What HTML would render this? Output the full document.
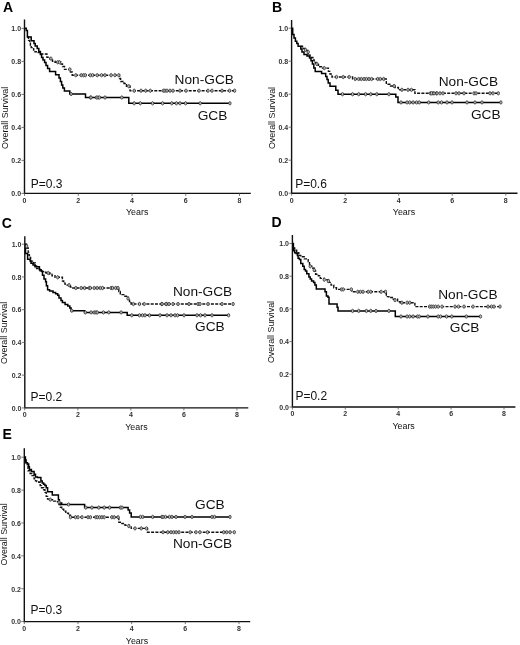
<!DOCTYPE html>
<html><head><meta charset="utf-8"><title>Kaplan-Meier survival curves</title>
<style>
html,body{margin:0;padding:0;background:#fff;}
body{width:520px;height:645px;overflow:hidden;}
svg{display:block;will-change:transform;}
text{font-family:"Liberation Sans", sans-serif;}
.lt{font-weight:bold;font-size:14px;fill:#000;}
.tk{font-size:7px;fill:#333;font-weight:bold;}
.ax{font-size:8.9px;fill:#111;}
.pv{font-size:12px;fill:#111;}
.gl{font-size:13.7px;fill:#111;}
.axis{stroke:#111;stroke-width:1.4;fill:none;}
.tick{stroke:#555;stroke-width:0.8;fill:none;}
.sol{stroke:#000;stroke-width:1.5;fill:none;stroke-linejoin:miter;}
.das{stroke:#111;stroke-width:1.4;fill:none;stroke-dasharray:3 1.3;}
.mk{stroke:#222;stroke-width:0.7;fill:#bbb;}
</style></head>
<body>
<svg width="520" height="645" viewBox="0 0 520 645">
<g>
<text class="lt" x="3.1" y="11.7">A</text>
<path class="axis" d="M24.5 19.6V193.4H250.8"/>
<path class="tick" d="M21.5 193.4H24.5"/>
<text class="tk" x="21.1" y="196.2" text-anchor="end">0.0</text>
<path class="tick" d="M21.5 160.4H24.5"/>
<text class="tk" x="21.1" y="163.2" text-anchor="end">0.2</text>
<path class="tick" d="M21.5 127.4H24.5"/>
<text class="tk" x="21.1" y="130.2" text-anchor="end">0.4</text>
<path class="tick" d="M21.5 94.4H24.5"/>
<text class="tk" x="21.1" y="97.2" text-anchor="end">0.6</text>
<path class="tick" d="M21.5 61.4H24.5"/>
<text class="tk" x="21.1" y="64.2" text-anchor="end">0.8</text>
<path class="tick" d="M21.5 28.4H24.5"/>
<text class="tk" x="21.1" y="31.2" text-anchor="end">1.0</text>
<path class="tick" d="M24.5 193.4V195.9"/>
<text class="tk" x="24.5" y="202.8" text-anchor="middle">0</text>
<path class="tick" d="M78.25 193.4V195.9"/>
<text class="tk" x="78.25" y="202.8" text-anchor="middle">2</text>
<path class="tick" d="M132 193.4V195.9"/>
<text class="tk" x="132" y="202.8" text-anchor="middle">4</text>
<path class="tick" d="M185.75 193.4V195.9"/>
<text class="tk" x="185.75" y="202.8" text-anchor="middle">6</text>
<path class="tick" d="M239.5 193.4V195.9"/>
<text class="tk" x="239.5" y="202.8" text-anchor="middle">8</text>
<text class="ax" x="137.2" y="214.8" text-anchor="middle">Years</text>
<text class="ax" transform="translate(7.5 117.8) rotate(-90)" text-anchor="middle">Overall Survival</text>
<text class="pv" x="30.8" y="187.9">P=0.3</text>
<text class="gl" x="174.6" y="83.8">Non-GCB</text>
<text class="gl" x="197.7" y="120.2">GCB</text>
<polyline class="das" points="27.4,37 28.5,37 28.5,40.4 29.6,40.4 29.6,42.5 30.4,42.5 30.4,45.4 31.2,45.4 31.2,47.6 33.6,47.6 33.6,50.1 35,50.1 35,51.8 37.2,51.8 37.2,52.6 40.6,52.6 40.6,54 46.9,54 46.9,57.3 50,57.3 50,59 52.5,59 52.5,61.3 55,61.3 55,62.2 61,62.2 61,64 62.5,64 62.5,66.5 64.5,66.5 64.5,69.4 70.5,69.4 70.5,72 72.2,72 72.2,75.2 119.5,75.2 119.5,78.5 120.6,78.5 120.6,81.5 124,81.5 124,83.5 126.5,83.5 126.5,86.2 130,86.2 130,90.7 234.6,90.7"/>
<polyline class="sol" points="24.5,28.2 26.2,28.2 26.2,30.6 27.4,30.6 27.4,37 31.2,37 31.2,40.8 34,40.8 34,43.5 35.2,43.5 35.2,46 37.2,46 37.2,48.5 38.8,48.5 38.8,51.5 40.4,51.5 40.4,54.5 41.6,54.5 41.6,57.5 43,57.5 43,60 44.6,60 44.6,62.5 46,62.5 46,65.5 47.6,65.5 47.6,68.5 49.6,68.5 49.6,71.4 55.6,71.4 55.6,74.8 59,74.8 59,78 60.4,78 60.4,81.5 61.6,81.5 61.6,85 62.8,85 62.8,88 64.4,88 64.4,91 69.8,91 69.8,94 85.5,94 85.5,97.5 128.8,97.5 128.8,103.3 229.9,103.3"/>
<ellipse class="mk" cx="50.9" cy="58.6" rx="1.2" ry="1.7"/>
<ellipse class="mk" cx="57.7" cy="62.2" rx="1.2" ry="1.7"/>
<ellipse class="mk" cx="59.4" cy="62.2" rx="1.2" ry="1.7"/>
<ellipse class="mk" cx="69.8" cy="69.4" rx="1.2" ry="1.7"/>
<ellipse class="mk" cx="75.8" cy="75.2" rx="1.2" ry="1.7"/>
<ellipse class="mk" cx="81.2" cy="75.2" rx="1.2" ry="1.7"/>
<ellipse class="mk" cx="83.5" cy="75.2" rx="1.2" ry="1.7"/>
<ellipse class="mk" cx="85.3" cy="75.2" rx="1.2" ry="1.7"/>
<ellipse class="mk" cx="90.3" cy="75.2" rx="1.2" ry="1.7"/>
<ellipse class="mk" cx="92.6" cy="75.2" rx="1.2" ry="1.7"/>
<ellipse class="mk" cx="97.2" cy="75.2" rx="1.2" ry="1.7"/>
<ellipse class="mk" cx="101.5" cy="75.2" rx="1.2" ry="1.7"/>
<ellipse class="mk" cx="104.9" cy="75.2" rx="1.2" ry="1.7"/>
<ellipse class="mk" cx="111.1" cy="75.2" rx="1.2" ry="1.7"/>
<ellipse class="mk" cx="114.9" cy="75.2" rx="1.2" ry="1.7"/>
<ellipse class="mk" cx="118.8" cy="75.2" rx="1.2" ry="1.7"/>
<ellipse class="mk" cx="128.8" cy="86.2" rx="1.2" ry="1.7"/>
<ellipse class="mk" cx="134.2" cy="90.7" rx="1.2" ry="1.7"/>
<ellipse class="mk" cx="141" cy="90.7" rx="1.2" ry="1.7"/>
<ellipse class="mk" cx="145.7" cy="90.7" rx="1.2" ry="1.7"/>
<ellipse class="mk" cx="150.3" cy="90.7" rx="1.2" ry="1.7"/>
<ellipse class="mk" cx="163.4" cy="90.7" rx="1.2" ry="1.7"/>
<ellipse class="mk" cx="165" cy="90.7" rx="1.2" ry="1.7"/>
<ellipse class="mk" cx="167" cy="90.7" rx="1.2" ry="1.7"/>
<ellipse class="mk" cx="170" cy="90.7" rx="1.2" ry="1.7"/>
<ellipse class="mk" cx="173" cy="90.7" rx="1.2" ry="1.7"/>
<ellipse class="mk" cx="180" cy="90.7" rx="1.2" ry="1.7"/>
<ellipse class="mk" cx="186" cy="90.7" rx="1.2" ry="1.7"/>
<ellipse class="mk" cx="199" cy="90.7" rx="1.2" ry="1.7"/>
<ellipse class="mk" cx="208" cy="90.7" rx="1.2" ry="1.7"/>
<ellipse class="mk" cx="212" cy="90.7" rx="1.2" ry="1.7"/>
<ellipse class="mk" cx="222" cy="90.7" rx="1.2" ry="1.7"/>
<ellipse class="mk" cx="229.5" cy="90.7" rx="1.2" ry="1.7"/>
<ellipse class="mk" cx="234.6" cy="90.7" rx="1.2" ry="1.7"/>
<ellipse class="mk" cx="71.1" cy="94" rx="1.2" ry="1.7"/>
<ellipse class="mk" cx="90.6" cy="97.5" rx="1.2" ry="1.7"/>
<ellipse class="mk" cx="91" cy="97.5" rx="1.2" ry="1.7"/>
<ellipse class="mk" cx="96.5" cy="97.5" rx="1.2" ry="1.7"/>
<ellipse class="mk" cx="98" cy="97.5" rx="1.2" ry="1.7"/>
<ellipse class="mk" cx="99.5" cy="97.5" rx="1.2" ry="1.7"/>
<ellipse class="mk" cx="105" cy="97.5" rx="1.2" ry="1.7"/>
<ellipse class="mk" cx="121.8" cy="97.5" rx="1.2" ry="1.7"/>
<ellipse class="mk" cx="134.2" cy="103.3" rx="1.2" ry="1.7"/>
<ellipse class="mk" cx="140.3" cy="103.3" rx="1.2" ry="1.7"/>
<ellipse class="mk" cx="152.6" cy="103.3" rx="1.2" ry="1.7"/>
<ellipse class="mk" cx="162.6" cy="103.3" rx="1.2" ry="1.7"/>
<ellipse class="mk" cx="171.8" cy="103.3" rx="1.2" ry="1.7"/>
<ellipse class="mk" cx="176.4" cy="103.3" rx="1.2" ry="1.7"/>
<ellipse class="mk" cx="180" cy="103.3" rx="1.2" ry="1.7"/>
<ellipse class="mk" cx="185.6" cy="103.3" rx="1.2" ry="1.7"/>
<ellipse class="mk" cx="200.2" cy="103.3" rx="1.2" ry="1.7"/>
<ellipse class="mk" cx="229.9" cy="103.3" rx="1.2" ry="1.7"/>
</g>
<g>
<text class="lt" x="271.9" y="11.6">B</text>
<path class="axis" d="M291.6 19.9V193.2H517.5"/>
<path class="tick" d="M288.6 193.2H291.6"/>
<text class="tk" x="288.2" y="196" text-anchor="end">0.0</text>
<path class="tick" d="M288.6 160.2H291.6"/>
<text class="tk" x="288.2" y="163" text-anchor="end">0.2</text>
<path class="tick" d="M288.6 127.2H291.6"/>
<text class="tk" x="288.2" y="130" text-anchor="end">0.4</text>
<path class="tick" d="M288.6 94.2H291.6"/>
<text class="tk" x="288.2" y="97" text-anchor="end">0.6</text>
<path class="tick" d="M288.6 61.2H291.6"/>
<text class="tk" x="288.2" y="64" text-anchor="end">0.8</text>
<path class="tick" d="M288.6 28.2H291.6"/>
<text class="tk" x="288.2" y="31" text-anchor="end">1.0</text>
<path class="tick" d="M291.6 193.2V195.7"/>
<text class="tk" x="291.6" y="202.6" text-anchor="middle">0</text>
<path class="tick" d="M345.15 193.2V195.7"/>
<text class="tk" x="345.15" y="202.6" text-anchor="middle">2</text>
<path class="tick" d="M398.7 193.2V195.7"/>
<text class="tk" x="398.7" y="202.6" text-anchor="middle">4</text>
<path class="tick" d="M452.25 193.2V195.7"/>
<text class="tk" x="452.25" y="202.6" text-anchor="middle">6</text>
<path class="tick" d="M505.8 193.2V195.7"/>
<text class="tk" x="505.8" y="202.6" text-anchor="middle">8</text>
<text class="ax" x="404" y="214.8" text-anchor="middle">Years</text>
<text class="ax" transform="translate(275.2 118) rotate(-90)" text-anchor="middle">Overall Survival</text>
<text class="pv" x="295.2" y="188">P=0.6</text>
<text class="gl" x="438.7" y="85.6">Non-GCB</text>
<text class="gl" x="470.9" y="118.8">GCB</text>
<polyline class="das" points="300.8,46.2 302.5,46.2 302.5,48.5 305,48.5 305,50.5 308.2,50.5 308.2,55 310,55 310,57.5 312.9,57.5 312.9,60 314.2,60 314.2,62.5 316,62.5 316,64.5 318.5,64.5 318.5,66.7 321.5,66.7 321.5,68.1 328.4,68.1 328.4,71.4 330,71.4 330,74 332,74 332,77 352.6,77 352.6,79 386.3,79 386.3,84.2 390.5,84.2 390.5,86 395,86 395,87.5 398.4,87.5 398.4,89.8 414.9,89.8 414.9,93.3 498.3,93.3"/>
<polyline class="sol" points="291.6,28.3 292.7,28.3 292.7,34.4 294,34.4 294,38 295.4,38 295.4,41.2 296.8,41.2 296.8,43.5 298.1,43.5 298.1,46.2 300.8,46.2 300.8,49 302,49 302,51.9 304,51.9 304,54.6 307,54.6 307,56 309.5,56 309.5,58 311,58 311,60.7 312.4,60.7 312.4,64 313.8,64 313.8,68.1 315.2,68.1 315.2,71.4 321.6,71.4 321.6,73.5 325.7,73.5 325.7,76.5 327,76.5 327,79.5 328.2,79.5 328.2,82.9 330,82.9 330,86.2 335.8,86.2 335.8,90.3 338,90.3 338,94.2 395.8,94.2 395.8,97 398,97 398,102.4 500.9,102.4"/>
<ellipse class="mk" cx="305.5" cy="49.9" rx="1.2" ry="1.7"/>
<ellipse class="mk" cx="308.2" cy="51.9" rx="1.2" ry="1.7"/>
<ellipse class="mk" cx="316.9" cy="64" rx="1.2" ry="1.7"/>
<ellipse class="mk" cx="324.3" cy="68.1" rx="1.2" ry="1.7"/>
<ellipse class="mk" cx="336.5" cy="77" rx="1.2" ry="1.7"/>
<ellipse class="mk" cx="343.2" cy="77" rx="1.2" ry="1.7"/>
<ellipse class="mk" cx="349.2" cy="77" rx="1.2" ry="1.7"/>
<ellipse class="mk" cx="355.2" cy="79" rx="1.2" ry="1.7"/>
<ellipse class="mk" cx="358.7" cy="79" rx="1.2" ry="1.7"/>
<ellipse class="mk" cx="361.3" cy="79" rx="1.2" ry="1.7"/>
<ellipse class="mk" cx="364" cy="79" rx="1.2" ry="1.7"/>
<ellipse class="mk" cx="366.4" cy="79" rx="1.2" ry="1.7"/>
<ellipse class="mk" cx="369" cy="79" rx="1.2" ry="1.7"/>
<ellipse class="mk" cx="371.6" cy="79" rx="1.2" ry="1.7"/>
<ellipse class="mk" cx="377.7" cy="79" rx="1.2" ry="1.7"/>
<ellipse class="mk" cx="380.3" cy="79" rx="1.2" ry="1.7"/>
<ellipse class="mk" cx="383.7" cy="79" rx="1.2" ry="1.7"/>
<ellipse class="mk" cx="394.1" cy="86" rx="1.2" ry="1.7"/>
<ellipse class="mk" cx="401.9" cy="89.8" rx="1.2" ry="1.7"/>
<ellipse class="mk" cx="408" cy="89.8" rx="1.2" ry="1.7"/>
<ellipse class="mk" cx="411.4" cy="89.8" rx="1.2" ry="1.7"/>
<ellipse class="mk" cx="430.4" cy="93.3" rx="1.2" ry="1.7"/>
<ellipse class="mk" cx="433" cy="93.3" rx="1.2" ry="1.7"/>
<ellipse class="mk" cx="436.5" cy="93.3" rx="1.2" ry="1.7"/>
<ellipse class="mk" cx="431.5" cy="93.3" rx="1.2" ry="1.7"/>
<ellipse class="mk" cx="434" cy="93.3" rx="1.2" ry="1.7"/>
<ellipse class="mk" cx="437" cy="93.3" rx="1.2" ry="1.7"/>
<ellipse class="mk" cx="440" cy="93.3" rx="1.2" ry="1.7"/>
<ellipse class="mk" cx="443" cy="93.3" rx="1.2" ry="1.7"/>
<ellipse class="mk" cx="456" cy="93.3" rx="1.2" ry="1.7"/>
<ellipse class="mk" cx="459" cy="93.3" rx="1.2" ry="1.7"/>
<ellipse class="mk" cx="464" cy="93.3" rx="1.2" ry="1.7"/>
<ellipse class="mk" cx="474" cy="93.3" rx="1.2" ry="1.7"/>
<ellipse class="mk" cx="476" cy="93.3" rx="1.2" ry="1.7"/>
<ellipse class="mk" cx="490" cy="93.3" rx="1.2" ry="1.7"/>
<ellipse class="mk" cx="493" cy="93.3" rx="1.2" ry="1.7"/>
<ellipse class="mk" cx="498.3" cy="93.3" rx="1.2" ry="1.7"/>
<ellipse class="mk" cx="342.5" cy="94.2" rx="1.2" ry="1.7"/>
<ellipse class="mk" cx="352.6" cy="94.2" rx="1.2" ry="1.7"/>
<ellipse class="mk" cx="358.7" cy="94.2" rx="1.2" ry="1.7"/>
<ellipse class="mk" cx="365.6" cy="94.2" rx="1.2" ry="1.7"/>
<ellipse class="mk" cx="370.8" cy="94.2" rx="1.2" ry="1.7"/>
<ellipse class="mk" cx="376.8" cy="94.2" rx="1.2" ry="1.7"/>
<ellipse class="mk" cx="388.9" cy="94.2" rx="1.2" ry="1.7"/>
<ellipse class="mk" cx="401" cy="102.4" rx="1.2" ry="1.7"/>
<ellipse class="mk" cx="407.1" cy="102.4" rx="1.2" ry="1.7"/>
<ellipse class="mk" cx="409.7" cy="102.4" rx="1.2" ry="1.7"/>
<ellipse class="mk" cx="413.1" cy="102.4" rx="1.2" ry="1.7"/>
<ellipse class="mk" cx="416.6" cy="102.4" rx="1.2" ry="1.7"/>
<ellipse class="mk" cx="419.2" cy="102.4" rx="1.2" ry="1.7"/>
<ellipse class="mk" cx="428.7" cy="102.4" rx="1.2" ry="1.7"/>
<ellipse class="mk" cx="438.2" cy="102.4" rx="1.2" ry="1.7"/>
<ellipse class="mk" cx="441.5" cy="102.4" rx="1.2" ry="1.7"/>
<ellipse class="mk" cx="447" cy="102.4" rx="1.2" ry="1.7"/>
<ellipse class="mk" cx="452" cy="102.4" rx="1.2" ry="1.7"/>
<ellipse class="mk" cx="467" cy="102.4" rx="1.2" ry="1.7"/>
<ellipse class="mk" cx="475" cy="102.4" rx="1.2" ry="1.7"/>
<ellipse class="mk" cx="482" cy="102.4" rx="1.2" ry="1.7"/>
<ellipse class="mk" cx="500.9" cy="102.4" rx="1.2" ry="1.7"/>
</g>
<g>
<text class="lt" x="1.7" y="227.9">C</text>
<path class="axis" d="M24.8 236.2V407.9H248.3"/>
<path class="tick" d="M21.8 407.9H24.8"/>
<text class="tk" x="21.4" y="410.7" text-anchor="end">0.0</text>
<path class="tick" d="M21.8 375.16H24.8"/>
<text class="tk" x="21.4" y="377.96" text-anchor="end">0.2</text>
<path class="tick" d="M21.8 342.42H24.8"/>
<text class="tk" x="21.4" y="345.22" text-anchor="end">0.4</text>
<path class="tick" d="M21.8 309.68H24.8"/>
<text class="tk" x="21.4" y="312.48" text-anchor="end">0.6</text>
<path class="tick" d="M21.8 276.94H24.8"/>
<text class="tk" x="21.4" y="279.74" text-anchor="end">0.8</text>
<path class="tick" d="M21.8 244.2H24.8"/>
<text class="tk" x="21.4" y="247" text-anchor="end">1.0</text>
<path class="tick" d="M24.8 407.9V410.4"/>
<text class="tk" x="24.8" y="417.3" text-anchor="middle">0</text>
<path class="tick" d="M77.83 407.9V410.4"/>
<text class="tk" x="77.83" y="417.3" text-anchor="middle">2</text>
<path class="tick" d="M130.85 407.9V410.4"/>
<text class="tk" x="130.85" y="417.3" text-anchor="middle">4</text>
<path class="tick" d="M183.88 407.9V410.4"/>
<text class="tk" x="183.88" y="417.3" text-anchor="middle">6</text>
<path class="tick" d="M236.9 407.9V410.4"/>
<text class="tk" x="236.9" y="417.3" text-anchor="middle">8</text>
<text class="ax" x="136.4" y="429.7" text-anchor="middle">Years</text>
<text class="ax" transform="translate(7.1 332.8) rotate(-90)" text-anchor="middle">Overall Survival</text>
<text class="pv" x="30.6" y="400.8">P=0.2</text>
<text class="gl" x="172.9" y="296">Non-GCB</text>
<text class="gl" x="195" y="331.3">GCB</text>
<polyline class="das" points="25.5,244.3 26.6,244.3 26.6,248 28.2,248 28.2,252.4 28.8,252.4 28.8,254.9 29.4,254.9 29.4,257.4 30.6,257.4 30.6,261.1 33.5,261.1 33.5,263 35.3,263 35.3,266 36.6,266 36.6,268.5 40,268.5 40,271.6 43.5,271.6 43.5,272.3 46,272.3 46,273 50,273 50,274.3 52,274.3 52,275.7 55,275.7 55,277.3 62.4,277.3 62.4,281 63.7,281 63.7,283.1 65.1,283.1 65.1,285.1 70.5,285.1 70.5,287.1 72,287.1 72,288 118.8,288 118.8,291.5 120.3,291.5 120.3,294.6 124.9,294.6 124.9,296.2 128,296.2 128,298.5 129.5,298.5 129.5,301.5 131.1,301.5 131.1,304 233.1,304"/>
<polyline class="sol" points="24.8,244.3 25.5,244.3 25.5,253.6 27.6,253.6 27.6,259.2 30.1,259.2 30.1,261 31,261 31,263.2 33,263.2 33,265 35,265 35,266.7 39.4,266.7 39.4,269.8 41.2,269.8 41.2,271 42.5,271 42.5,275.3 44,275.3 44,279 45.6,279 45.6,281.7 46.4,281.7 46.4,285.8 47.6,285.8 47.6,289.8 49.6,289.8 49.6,291.1 53,291.1 53,292.5 55.6,292.5 55.6,293.8 57.7,293.8 57.7,295.2 59,295.2 59,297.9 61,297.9 61,300.6 62.4,300.6 62.4,302.6 65.1,302.6 65.1,304.6 67.8,304.6 67.8,306 69.8,306 69.8,308 71.1,308 71.1,310.7 84.6,310.7 84.6,312.4 127.2,312.4 127.2,315.3 228.6,315.3"/>
<ellipse class="mk" cx="26.6" cy="246.2" rx="1.2" ry="1.7"/>
<ellipse class="mk" cx="48.2" cy="273" rx="1.2" ry="1.7"/>
<ellipse class="mk" cx="57.7" cy="277.3" rx="1.2" ry="1.7"/>
<ellipse class="mk" cx="69.1" cy="285.1" rx="1.2" ry="1.7"/>
<ellipse class="mk" cx="75.8" cy="288" rx="1.2" ry="1.7"/>
<ellipse class="mk" cx="81.2" cy="288" rx="1.2" ry="1.7"/>
<ellipse class="mk" cx="84.6" cy="288" rx="1.2" ry="1.7"/>
<ellipse class="mk" cx="89.3" cy="288" rx="1.2" ry="1.7"/>
<ellipse class="mk" cx="90.3" cy="288" rx="1.2" ry="1.7"/>
<ellipse class="mk" cx="94.2" cy="288" rx="1.2" ry="1.7"/>
<ellipse class="mk" cx="97.2" cy="288" rx="1.2" ry="1.7"/>
<ellipse class="mk" cx="100.3" cy="288" rx="1.2" ry="1.7"/>
<ellipse class="mk" cx="102.6" cy="288" rx="1.2" ry="1.7"/>
<ellipse class="mk" cx="111.1" cy="288" rx="1.2" ry="1.7"/>
<ellipse class="mk" cx="112.6" cy="288" rx="1.2" ry="1.7"/>
<ellipse class="mk" cx="115.7" cy="288" rx="1.2" ry="1.7"/>
<ellipse class="mk" cx="118" cy="288" rx="1.2" ry="1.7"/>
<ellipse class="mk" cx="128" cy="298.5" rx="1.2" ry="1.7"/>
<ellipse class="mk" cx="133.4" cy="304" rx="1.2" ry="1.7"/>
<ellipse class="mk" cx="139.5" cy="304" rx="1.2" ry="1.7"/>
<ellipse class="mk" cx="144.2" cy="304" rx="1.2" ry="1.7"/>
<ellipse class="mk" cx="161.8" cy="304" rx="1.2" ry="1.7"/>
<ellipse class="mk" cx="166.5" cy="304" rx="1.2" ry="1.7"/>
<ellipse class="mk" cx="162" cy="304" rx="1.2" ry="1.7"/>
<ellipse class="mk" cx="166" cy="304" rx="1.2" ry="1.7"/>
<ellipse class="mk" cx="169" cy="304" rx="1.2" ry="1.7"/>
<ellipse class="mk" cx="173" cy="304" rx="1.2" ry="1.7"/>
<ellipse class="mk" cx="178" cy="304" rx="1.2" ry="1.7"/>
<ellipse class="mk" cx="189" cy="304" rx="1.2" ry="1.7"/>
<ellipse class="mk" cx="198" cy="304" rx="1.2" ry="1.7"/>
<ellipse class="mk" cx="200" cy="304" rx="1.2" ry="1.7"/>
<ellipse class="mk" cx="208" cy="304" rx="1.2" ry="1.7"/>
<ellipse class="mk" cx="222" cy="304" rx="1.2" ry="1.7"/>
<ellipse class="mk" cx="233.1" cy="304" rx="1.2" ry="1.7"/>
<ellipse class="mk" cx="71.8" cy="310.7" rx="1.2" ry="1.7"/>
<ellipse class="mk" cx="85.3" cy="312.4" rx="1.2" ry="1.7"/>
<ellipse class="mk" cx="91.1" cy="312.4" rx="1.2" ry="1.7"/>
<ellipse class="mk" cx="94.2" cy="312.4" rx="1.2" ry="1.7"/>
<ellipse class="mk" cx="96" cy="312.4" rx="1.2" ry="1.7"/>
<ellipse class="mk" cx="97.2" cy="312.4" rx="1.2" ry="1.7"/>
<ellipse class="mk" cx="103.4" cy="312.4" rx="1.2" ry="1.7"/>
<ellipse class="mk" cx="108.8" cy="312.4" rx="1.2" ry="1.7"/>
<ellipse class="mk" cx="121.1" cy="312.4" rx="1.2" ry="1.7"/>
<ellipse class="mk" cx="131.8" cy="315.3" rx="1.2" ry="1.7"/>
<ellipse class="mk" cx="139.5" cy="315.3" rx="1.2" ry="1.7"/>
<ellipse class="mk" cx="142.5" cy="315.3" rx="1.2" ry="1.7"/>
<ellipse class="mk" cx="145" cy="315.3" rx="1.2" ry="1.7"/>
<ellipse class="mk" cx="149.5" cy="315.3" rx="1.2" ry="1.7"/>
<ellipse class="mk" cx="160" cy="315.3" rx="1.2" ry="1.7"/>
<ellipse class="mk" cx="167" cy="315.3" rx="1.2" ry="1.7"/>
<ellipse class="mk" cx="171" cy="315.3" rx="1.2" ry="1.7"/>
<ellipse class="mk" cx="175" cy="315.3" rx="1.2" ry="1.7"/>
<ellipse class="mk" cx="177.5" cy="315.3" rx="1.2" ry="1.7"/>
<ellipse class="mk" cx="184" cy="315.3" rx="1.2" ry="1.7"/>
<ellipse class="mk" cx="197" cy="315.3" rx="1.2" ry="1.7"/>
<ellipse class="mk" cx="200.5" cy="315.3" rx="1.2" ry="1.7"/>
<ellipse class="mk" cx="205" cy="315.3" rx="1.2" ry="1.7"/>
<ellipse class="mk" cx="212" cy="315.3" rx="1.2" ry="1.7"/>
<ellipse class="mk" cx="228.6" cy="315.3" rx="1.2" ry="1.7"/>
</g>
<g>
<text class="lt" x="271.4" y="227.3">D</text>
<path class="axis" d="M292.4 235V407H515.4"/>
<path class="tick" d="M289.4 407H292.4"/>
<text class="tk" x="289" y="409.8" text-anchor="end">0.0</text>
<path class="tick" d="M289.4 374.3H292.4"/>
<text class="tk" x="289" y="377.1" text-anchor="end">0.2</text>
<path class="tick" d="M289.4 341.6H292.4"/>
<text class="tk" x="289" y="344.4" text-anchor="end">0.4</text>
<path class="tick" d="M289.4 308.9H292.4"/>
<text class="tk" x="289" y="311.7" text-anchor="end">0.6</text>
<path class="tick" d="M289.4 276.2H292.4"/>
<text class="tk" x="289" y="279" text-anchor="end">0.8</text>
<path class="tick" d="M289.4 243.5H292.4"/>
<text class="tk" x="289" y="246.3" text-anchor="end">1.0</text>
<path class="tick" d="M292.4 407V409.5"/>
<text class="tk" x="292.4" y="416.4" text-anchor="middle">0</text>
<path class="tick" d="M345.3 407V409.5"/>
<text class="tk" x="345.3" y="416.4" text-anchor="middle">2</text>
<path class="tick" d="M398.2 407V409.5"/>
<text class="tk" x="398.2" y="416.4" text-anchor="middle">4</text>
<path class="tick" d="M451.1 407V409.5"/>
<text class="tk" x="451.1" y="416.4" text-anchor="middle">6</text>
<path class="tick" d="M504 407V409.5"/>
<text class="tk" x="504" y="416.4" text-anchor="middle">8</text>
<text class="ax" x="403.6" y="428.7" text-anchor="middle">Years</text>
<text class="ax" transform="translate(273.8 332) rotate(-90)" text-anchor="middle">Overall Survival</text>
<text class="pv" x="295.4" y="400.3">P=0.2</text>
<text class="gl" x="438.2" y="298.9">Non-GCB</text>
<text class="gl" x="449.8" y="332.4">GCB</text>
<polyline class="das" points="293.4,248 294.7,248 294.7,250.1 296.7,250.1 296.7,252.8 298.8,252.8 298.8,255.5 300.8,255.5 300.8,256.8 304.2,256.8 304.2,258.9 308.2,258.9 308.2,261.6 309.5,261.6 309.5,266.3 312.9,266.3 312.9,268.3 314.2,268.3 314.2,271 315.6,271 315.6,274.3 318.3,274.3 318.3,275.7 320.3,275.7 320.3,278.4 324.3,278.4 324.3,279.7 328.4,279.7 328.4,282.4 331.1,282.4 331.1,285.1 333.8,285.1 333.8,287.8 336.5,287.8 336.5,289.4 351.7,289.4 351.7,291.8 386.3,291.8 386.3,296.6 388.9,296.6 388.9,297.5 393.3,297.5 393.3,299.2 397.6,299.2 397.6,301.8 400.2,301.8 400.2,302.7 414.9,302.7 414.9,306.6 500,306.6"/>
<polyline class="sol" points="292.6,243.4 293.4,243.4 293.4,250.8 294.7,250.8 294.7,252.8 296.1,252.8 296.1,253.5 297.4,253.5 297.4,255.5 298.1,255.5 298.1,258.2 299.4,258.2 299.4,259.5 300.8,259.5 300.8,263.6 302.8,263.6 302.8,266.3 304.2,266.3 304.2,269.6 305.5,269.6 305.5,271 306.8,271 306.8,273.7 308.9,273.7 308.9,277 310.2,277 310.2,279 311.6,279 311.6,281.1 313.6,281.1 313.6,282.4 314.9,282.4 314.9,285.1 316.3,285.1 316.3,289.1 325,289.1 325,291.8 326.4,291.8 326.4,295.9 328,295.9 328,297.2 329,297.2 329,303.9 337.1,303.9 337.1,307.3 338,307.3 338,310.9 395.3,310.9 395.3,316.5 480.5,316.5"/>
<ellipse class="mk" cx="310.2" cy="266.3" rx="1.2" ry="1.7"/>
<ellipse class="mk" cx="314.2" cy="270" rx="1.2" ry="1.7"/>
<ellipse class="mk" cx="324.3" cy="279.7" rx="1.2" ry="1.7"/>
<ellipse class="mk" cx="328.4" cy="281" rx="1.2" ry="1.7"/>
<ellipse class="mk" cx="341.5" cy="289.4" rx="1.2" ry="1.7"/>
<ellipse class="mk" cx="343.2" cy="289.4" rx="1.2" ry="1.7"/>
<ellipse class="mk" cx="351.3" cy="289.4" rx="1.2" ry="1.7"/>
<ellipse class="mk" cx="357.8" cy="291.8" rx="1.2" ry="1.7"/>
<ellipse class="mk" cx="360.4" cy="291.8" rx="1.2" ry="1.7"/>
<ellipse class="mk" cx="363" cy="291.8" rx="1.2" ry="1.7"/>
<ellipse class="mk" cx="368.2" cy="291.8" rx="1.2" ry="1.7"/>
<ellipse class="mk" cx="370.8" cy="291.8" rx="1.2" ry="1.7"/>
<ellipse class="mk" cx="381.1" cy="291.8" rx="1.2" ry="1.7"/>
<ellipse class="mk" cx="385.5" cy="291.8" rx="1.2" ry="1.7"/>
<ellipse class="mk" cx="395" cy="300.1" rx="1.2" ry="1.7"/>
<ellipse class="mk" cx="401.9" cy="302.7" rx="1.2" ry="1.7"/>
<ellipse class="mk" cx="407.1" cy="302.7" rx="1.2" ry="1.7"/>
<ellipse class="mk" cx="409.7" cy="302.7" rx="1.2" ry="1.7"/>
<ellipse class="mk" cx="429.6" cy="306.6" rx="1.2" ry="1.7"/>
<ellipse class="mk" cx="431.2" cy="306.6" rx="1.2" ry="1.7"/>
<ellipse class="mk" cx="433.2" cy="306.6" rx="1.2" ry="1.7"/>
<ellipse class="mk" cx="435.5" cy="306.6" rx="1.2" ry="1.7"/>
<ellipse class="mk" cx="438.2" cy="306.6" rx="1.2" ry="1.7"/>
<ellipse class="mk" cx="442" cy="306.6" rx="1.2" ry="1.7"/>
<ellipse class="mk" cx="455" cy="306.6" rx="1.2" ry="1.7"/>
<ellipse class="mk" cx="458.5" cy="306.6" rx="1.2" ry="1.7"/>
<ellipse class="mk" cx="464" cy="306.6" rx="1.2" ry="1.7"/>
<ellipse class="mk" cx="473" cy="306.6" rx="1.2" ry="1.7"/>
<ellipse class="mk" cx="488" cy="306.6" rx="1.2" ry="1.7"/>
<ellipse class="mk" cx="491.5" cy="306.6" rx="1.2" ry="1.7"/>
<ellipse class="mk" cx="494" cy="306.6" rx="1.2" ry="1.7"/>
<ellipse class="mk" cx="500" cy="306.6" rx="1.2" ry="1.7"/>
<ellipse class="mk" cx="352.6" cy="310.9" rx="1.2" ry="1.7"/>
<ellipse class="mk" cx="358.7" cy="310.9" rx="1.2" ry="1.7"/>
<ellipse class="mk" cx="366.4" cy="310.9" rx="1.2" ry="1.7"/>
<ellipse class="mk" cx="370.8" cy="310.9" rx="1.2" ry="1.7"/>
<ellipse class="mk" cx="376" cy="310.9" rx="1.2" ry="1.7"/>
<ellipse class="mk" cx="388.9" cy="310.9" rx="1.2" ry="1.7"/>
<ellipse class="mk" cx="401" cy="316.5" rx="1.2" ry="1.7"/>
<ellipse class="mk" cx="407.1" cy="316.5" rx="1.2" ry="1.7"/>
<ellipse class="mk" cx="409.7" cy="316.5" rx="1.2" ry="1.7"/>
<ellipse class="mk" cx="413.1" cy="316.5" rx="1.2" ry="1.7"/>
<ellipse class="mk" cx="417.5" cy="316.5" rx="1.2" ry="1.7"/>
<ellipse class="mk" cx="419.2" cy="316.5" rx="1.2" ry="1.7"/>
<ellipse class="mk" cx="427.9" cy="316.5" rx="1.2" ry="1.7"/>
<ellipse class="mk" cx="438.2" cy="316.5" rx="1.2" ry="1.7"/>
<ellipse class="mk" cx="440.5" cy="316.5" rx="1.2" ry="1.7"/>
<ellipse class="mk" cx="446.5" cy="316.5" rx="1.2" ry="1.7"/>
<ellipse class="mk" cx="451.8" cy="316.5" rx="1.2" ry="1.7"/>
<ellipse class="mk" cx="466.3" cy="316.5" rx="1.2" ry="1.7"/>
<ellipse class="mk" cx="480.5" cy="316.5" rx="1.2" ry="1.7"/>
</g>
<g>
<text class="lt" x="2.5" y="438.7">E</text>
<path class="axis" d="M24.3 448.3V621.6H250.2"/>
<path class="tick" d="M21.3 621.6H24.3"/>
<text class="tk" x="20.9" y="624.4" text-anchor="end">0.0</text>
<path class="tick" d="M21.3 588.72H24.3"/>
<text class="tk" x="20.9" y="591.52" text-anchor="end">0.2</text>
<path class="tick" d="M21.3 555.84H24.3"/>
<text class="tk" x="20.9" y="558.64" text-anchor="end">0.4</text>
<path class="tick" d="M21.3 522.96H24.3"/>
<text class="tk" x="20.9" y="525.76" text-anchor="end">0.6</text>
<path class="tick" d="M21.3 490.08H24.3"/>
<text class="tk" x="20.9" y="492.88" text-anchor="end">0.8</text>
<path class="tick" d="M21.3 457.2H24.3"/>
<text class="tk" x="20.9" y="460" text-anchor="end">1.0</text>
<path class="tick" d="M24.3 621.6V624.1"/>
<text class="tk" x="24.3" y="631" text-anchor="middle">0</text>
<path class="tick" d="M77.97 621.6V624.1"/>
<text class="tk" x="77.97" y="631" text-anchor="middle">2</text>
<path class="tick" d="M131.65 621.6V624.1"/>
<text class="tk" x="131.65" y="631" text-anchor="middle">4</text>
<path class="tick" d="M185.32 621.6V624.1"/>
<text class="tk" x="185.32" y="631" text-anchor="middle">6</text>
<path class="tick" d="M239 621.6V624.1"/>
<text class="tk" x="239" y="631" text-anchor="middle">8</text>
<text class="ax" x="137" y="643.6" text-anchor="middle">Years</text>
<text class="ax" transform="translate(7.1 534.3) rotate(-90)" text-anchor="middle">Overall Survival</text>
<text class="pv" x="30.6" y="613.8">P=0.3</text>
<text class="gl" x="195" y="509.2">GCB</text>
<text class="gl" x="172.9" y="547.6">Non-GCB</text>
<polyline class="das" points="25.4,460.1 25.4,462.8 27.4,462.8 27.4,465.5 28,465.5 28,470.8 30.1,470.8 30.1,473.5 32.1,473.5 32.1,475.6 34.1,475.6 34.1,478.9 35.5,478.9 35.5,480.9 36.8,480.9 36.8,481.6 38.8,481.6 38.8,482.3 40.2,482.3 40.2,485.6 41.5,485.6 41.5,487.7 43.6,487.7 43.6,489.7 44.9,489.7 44.9,492.4 46.2,492.4 46.2,496.4 47.6,496.4 47.6,499.1 50.3,499.1 50.3,499.8 53.6,499.8 53.6,501.1 56.3,501.1 56.3,501.8 59,501.8 59,504.5 60.4,504.5 60.4,507.2 61.7,507.2 61.7,509.2 63.7,509.2 63.7,511.2 65.8,511.2 65.8,513.2 68.5,513.2 68.5,515.3 70.5,515.3 70.5,517.2 118.8,517.2 118.8,522.3 121.9,522.3 121.9,523.5 125,523.5 125,525.2 128.8,525.2 128.8,526.9 131.2,526.9 131.2,528.4 147.5,528.4 147.5,532.2 234.6,532.2"/>
<polyline class="sol" points="24.3,457.1 25.4,457.1 25.4,460.1 26.1,460.1 26.1,462.8 27.4,462.8 27.4,464.1 28.7,464.1 28.7,466.8 29.4,466.8 29.4,469.5 31.4,469.5 31.4,471.5 34.1,471.5 34.1,474.2 35.5,474.2 35.5,476.9 37.5,476.9 37.5,477.6 40.9,477.6 40.9,480.9 42.2,480.9 42.2,483 43.6,483 43.6,484.3 44.9,484.3 44.9,485.6 46.2,485.6 46.2,487.7 47.6,487.7 47.6,491.7 52.3,491.7 52.3,495.1 58.4,495.1 58.4,499.8 59.4,499.8 59.4,503.1 61.7,503.1 61.7,504.5 84.6,504.5 84.6,507.6 128.1,507.6 128.1,510 129.6,510 129.6,513.1 131.2,513.1 131.2,516.9 230,516.9"/>
<ellipse class="mk" cx="50.3" cy="499.6" rx="1.2" ry="1.7"/>
<ellipse class="mk" cx="59" cy="502.3" rx="1.2" ry="1.7"/>
<ellipse class="mk" cx="70.5" cy="517.2" rx="1.2" ry="1.7"/>
<ellipse class="mk" cx="75.5" cy="517.2" rx="1.2" ry="1.7"/>
<ellipse class="mk" cx="78" cy="517.2" rx="1.2" ry="1.7"/>
<ellipse class="mk" cx="82" cy="517.2" rx="1.2" ry="1.7"/>
<ellipse class="mk" cx="88" cy="517.2" rx="1.2" ry="1.7"/>
<ellipse class="mk" cx="90.4" cy="517.2" rx="1.2" ry="1.7"/>
<ellipse class="mk" cx="95.8" cy="517.2" rx="1.2" ry="1.7"/>
<ellipse class="mk" cx="97.3" cy="517.2" rx="1.2" ry="1.7"/>
<ellipse class="mk" cx="99.6" cy="517.2" rx="1.2" ry="1.7"/>
<ellipse class="mk" cx="101.9" cy="517.2" rx="1.2" ry="1.7"/>
<ellipse class="mk" cx="104.2" cy="517.2" rx="1.2" ry="1.7"/>
<ellipse class="mk" cx="111.9" cy="517.2" rx="1.2" ry="1.7"/>
<ellipse class="mk" cx="114.2" cy="517.2" rx="1.2" ry="1.7"/>
<ellipse class="mk" cx="118.1" cy="517.2" rx="1.2" ry="1.7"/>
<ellipse class="mk" cx="128.8" cy="526" rx="1.2" ry="1.7"/>
<ellipse class="mk" cx="135" cy="528.4" rx="1.2" ry="1.7"/>
<ellipse class="mk" cx="141.2" cy="528.4" rx="1.2" ry="1.7"/>
<ellipse class="mk" cx="146.5" cy="528.4" rx="1.2" ry="1.7"/>
<ellipse class="mk" cx="163" cy="532.2" rx="1.2" ry="1.7"/>
<ellipse class="mk" cx="167.8" cy="532.2" rx="1.2" ry="1.7"/>
<ellipse class="mk" cx="171" cy="532.2" rx="1.2" ry="1.7"/>
<ellipse class="mk" cx="173.6" cy="532.2" rx="1.2" ry="1.7"/>
<ellipse class="mk" cx="176.2" cy="532.2" rx="1.2" ry="1.7"/>
<ellipse class="mk" cx="179" cy="532.2" rx="1.2" ry="1.7"/>
<ellipse class="mk" cx="190.2" cy="532.2" rx="1.2" ry="1.7"/>
<ellipse class="mk" cx="196" cy="532.2" rx="1.2" ry="1.7"/>
<ellipse class="mk" cx="199.9" cy="532.2" rx="1.2" ry="1.7"/>
<ellipse class="mk" cx="207.5" cy="532.2" rx="1.2" ry="1.7"/>
<ellipse class="mk" cx="223.7" cy="532.2" rx="1.2" ry="1.7"/>
<ellipse class="mk" cx="226.7" cy="532.2" rx="1.2" ry="1.7"/>
<ellipse class="mk" cx="230.1" cy="532.2" rx="1.2" ry="1.7"/>
<ellipse class="mk" cx="234.3" cy="532.2" rx="1.2" ry="1.7"/>
<ellipse class="mk" cx="68.5" cy="504.5" rx="1.2" ry="1.7"/>
<ellipse class="mk" cx="85.8" cy="507.6" rx="1.2" ry="1.7"/>
<ellipse class="mk" cx="91.9" cy="507.6" rx="1.2" ry="1.7"/>
<ellipse class="mk" cx="98.8" cy="507.6" rx="1.2" ry="1.7"/>
<ellipse class="mk" cx="104.2" cy="507.6" rx="1.2" ry="1.7"/>
<ellipse class="mk" cx="109.6" cy="507.6" rx="1.2" ry="1.7"/>
<ellipse class="mk" cx="120.5" cy="507.6" rx="1.2" ry="1.7"/>
<ellipse class="mk" cx="122" cy="507.6" rx="1.2" ry="1.7"/>
<ellipse class="mk" cx="140.4" cy="516.9" rx="1.2" ry="1.7"/>
<ellipse class="mk" cx="142.7" cy="516.9" rx="1.2" ry="1.7"/>
<ellipse class="mk" cx="152.7" cy="516.9" rx="1.2" ry="1.7"/>
<ellipse class="mk" cx="161.9" cy="516.9" rx="1.2" ry="1.7"/>
<ellipse class="mk" cx="163" cy="516.9" rx="1.2" ry="1.7"/>
<ellipse class="mk" cx="165.5" cy="516.9" rx="1.2" ry="1.7"/>
<ellipse class="mk" cx="169.5" cy="516.9" rx="1.2" ry="1.7"/>
<ellipse class="mk" cx="172" cy="516.9" rx="1.2" ry="1.7"/>
<ellipse class="mk" cx="176" cy="516.9" rx="1.2" ry="1.7"/>
<ellipse class="mk" cx="185" cy="516.9" rx="1.2" ry="1.7"/>
<ellipse class="mk" cx="192" cy="516.9" rx="1.2" ry="1.7"/>
<ellipse class="mk" cx="212" cy="516.9" rx="1.2" ry="1.7"/>
<ellipse class="mk" cx="214.5" cy="516.9" rx="1.2" ry="1.7"/>
<ellipse class="mk" cx="230" cy="516.9" rx="1.2" ry="1.7"/>
</g>
</svg>
</body></html>
